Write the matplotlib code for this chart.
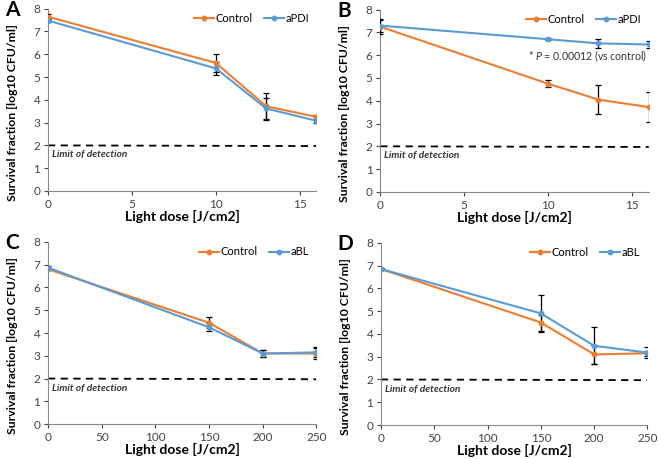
import matplotlib
matplotlib.use("Agg")
import matplotlib.pyplot as plt
from matplotlib.lines import Line2D

plt.rcParams['font.family'] = ['Lato', 'DejaVu Sans']
plt.rcParams['mathtext.fontset'] = 'custom'
plt.rcParams['mathtext.it'] = 'Lato:italic'
plt.rcParams['mathtext.rm'] = 'Lato'

ORANGE = '#ED7D31'
BLUE = '#5B9BD5'

# Panel A / B: light dose J/cm2
dose_ab = [0, 10, 13, 16]
a_control = [7.65, 5.62, 3.72, 3.25]
a_control_err = [0.1, 0.38, 0.6, 0.1]
a_treat = [7.48, 5.38, 3.62, 3.08]
a_treat_err = [0.08, 0.27, 0.45, 0.08]

b_control = [7.25, 4.75, 4.05, 3.72]
b_control_err = [0.3, 0.15, 0.65, 0.67]
b_treat = [7.3, 6.7, 6.52, 6.47]
b_treat_err = [0.3, 0.05, 0.2, 0.15]

# Panel C / D
dose_cd = [0, 150, 200, 250]
c_control = [6.8, 4.45, 3.1, 3.1]
c_control_err = [0.05, 0.25, 0.15, 0.22]
c_treat = [6.87, 4.25, 3.1, 3.15]
c_treat_err = [0.05, 0.18, 0.15, 0.22]

d_control = [6.85, 4.5, 3.1, 3.15]
d_control_err = [0.05, 0.35, 0.42, 0.1]
d_treat = [6.85, 4.9, 3.48, 3.18]
d_treat_err = [0.05, 0.8, 0.82, 0.25]

panels = [
    ('A', dose_ab, a_control, a_control_err, a_treat, a_treat_err, 'aPDI', 16, [0, 5, 10, 15]),
    ('B', dose_ab, b_control, b_control_err, b_treat, b_treat_err, 'aPDI', 16, [0, 5, 10, 15]),
    ('C', dose_cd, c_control, c_control_err, c_treat, c_treat_err, 'aBL', 250, [0, 50, 100, 150, 200, 250]),
    ('D', dose_cd, d_control, d_control_err, d_treat, d_treat_err, 'aBL', 250, [0, 50, 100, 150, 200, 250]),
]

# axes rectangles in figure fractions
rects = {
    'A': [0.073, 0.584, 0.408, 0.397],
    'B': [0.578, 0.582, 0.408, 0.397],
    'C': [0.073, 0.076, 0.408, 0.397],
    'D': [0.579, 0.074, 0.405, 0.397],
}

fig = plt.figure(figsize=(6.58, 4.59), dpi=100)

for letter, x, ctrl, ctrl_err, trt, trt_err, trt_name, xmax, xticks in panels:
    ax = fig.add_axes(rects[letter])
    ax.errorbar(x, ctrl, yerr=ctrl_err, color=ORANGE, ecolor='black', elinewidth=0.9,
                capsize=2, capthick=0.9, marker='o', markersize=3.2, lw=1.5, zorder=3)
    ax.errorbar(x, trt, yerr=trt_err, color=BLUE, ecolor='black', elinewidth=0.9,
                capsize=2, capthick=0.9, marker='o', markersize=3.2, lw=1.5, zorder=3)
    ax.plot([0, xmax], [2, 1.97], color='black', lw=1.3, ls=(0, (4, 3)))
    ax.text(xmax * 0.015, 1.58, 'Limit of detection', fontsize=7.3, fontstyle='italic',
            fontweight='bold', color='#333333', va='center')

    ax.set_xlim(0, xmax)
    ax.set_ylim(0, 8)
    ax.set_xticks(xticks)
    ax.set_yticks(range(0, 9))
    ax.tick_params(labelsize=8.5, colors='#444444', length=3, width=0.8, pad=2.5)
    for side in ['top', 'right']:
        ax.spines[side].set_visible(False)
    for side in ['left', 'bottom']:
        ax.spines[side].set_color('#888888')
    ax.set_xlabel('Light dose [J/cm2]', fontsize=10, fontweight='bold', labelpad=0.5)
    ax.set_ylabel('Survival fraction [log10 CFU/ml]', fontsize=8.8, fontweight='bold')
    ax.yaxis.set_label_coords(-0.112, 0.43)

    handles = [Line2D([], [], color=ORANGE, marker='o', markersize=3.2, lw=1.5),
               Line2D([], [], color=BLUE, marker='o', markersize=3.2, lw=1.5)]
    ax.legend(handles, ['Control', trt_name], loc='upper right', bbox_to_anchor=(1.01, 1.03),
              ncol=2, frameon=False, fontsize=8, handlelength=1.8, handletextpad=0.15,
              columnspacing=1.0)

    if letter == 'B':
        ax.text(15.9, 5.95, '* $P$ = 0.00012 (vs control)', fontsize=7.6, color='#333333',
                va='center', ha='right')

    fig.text(0.008 if letter in 'AC' else 0.513,
             rects[letter][1] + rects[letter][3] - 0.002, letter,
             fontsize=15, fontweight='bold', va='center')

fig.savefig('out.png', dpi=100)
